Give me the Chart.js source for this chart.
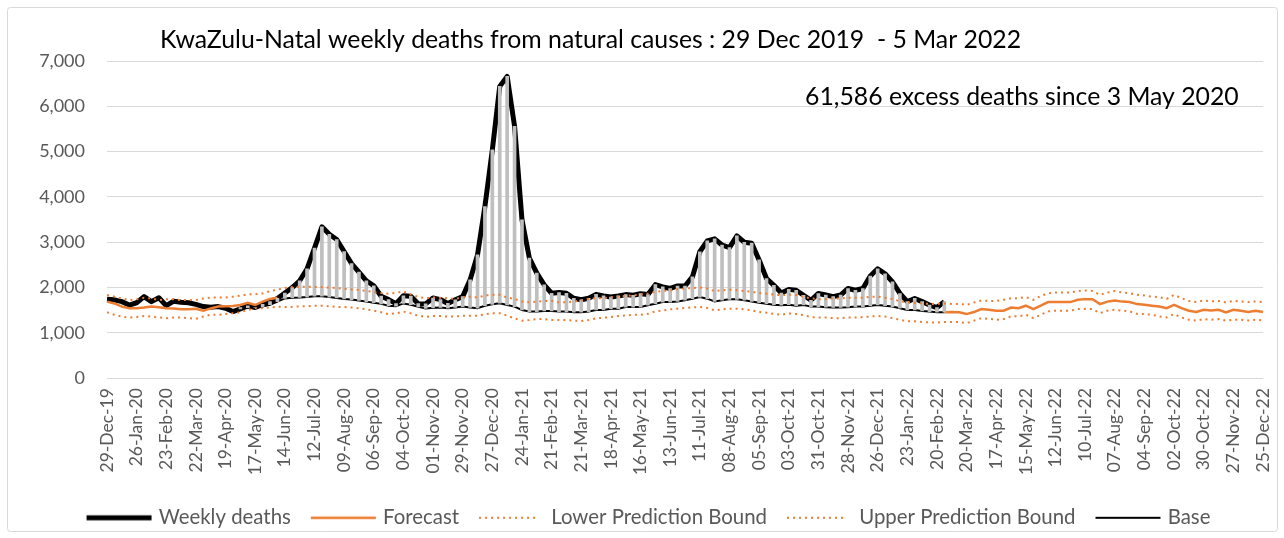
<!DOCTYPE html>
<html><head><meta charset="utf-8">
<script src="https://cdn.jsdelivr.net/npm/chart.js@4.4.1/dist/chart.umd.min.js"></script>
<style>html,body{margin:0;padding:0;background:#fff;} canvas{display:block;}</style>
</head><body>
<canvas id="c" width="1284" height="538"></canvas>
<script>
const titleText = 'KwaZulu-Natal weekly deaths from natural causes : 29 Dec 2019  - 5 Mar 2022';
const noteText = '61,586 excess deaths since 3 May 2020';

const tickLabels = ['29-Dec-19','26-Jan-20','23-Feb-20','22-Mar-20','19-Apr-20','17-May-20','14-Jun-20','12-Jul-20','09-Aug-20','06-Sep-20','04-Oct-20','01-Nov-20','29-Nov-20','27-Dec-20','24-Jan-21','21-Feb-21','21-Mar-21','18-Apr-21','16-May-21','13-Jun-21','11-Jul-21','08-Aug-21','05-Sep-21','03-Oct-21','31-Oct-21','28-Nov-21','26-Dec-21','23-Jan-22','20-Feb-22','20-Mar-22','17-Apr-22','15-May-22','12-Jun-22','10-Jul-22','07-Aug-22','04-Sep-22','02-Oct-22','30-Oct-22','27-Nov-22','25-Dec-22'];
const weeksBetweenTicks = 4;
const weekCount = 157;

const weeklyDeaths = [
 1740,1730,1690,1615,1665,1800,1690,1775,1600,1700,
 1675,1665,1630,1580,1565,1580,1545,1470,1530,1595,
 1560,1630,1690,1760,1880,2000,2150,2415,2870,3340,
 3175,3060,2795,2530,2340,2150,2040,1810,1735,1645,
 1820,1810,1645,1640,1770,1735,1650,1730,1800,2170,
 2720,3790,5040,6440,6660,5560,3495,2650,2320,2060,
 1875,1890,1875,1765,1730,1765,1850,1815,1790,1815,
 1845,1830,1865,1845,2065,2015,1980,2035,2035,2235,
 2790,3030,3075,2940,2880,3140,3000,2980,2610,2200,
 2050,1880,1960,1940,1830,1720,1870,1835,1800,1835,
 1980,1940,1980,2255,2415,2305,2125,1870,1690,1760,
 1690,1615,1560,1690];

const forecast = [
 1690,1650,1580,1545,1545,1560,1580,1565,1545,1540,
 1520,1520,1530,1490,1540,1580,1590,1595,1615,1665,
 1615,1690,1750,1775,
 null,null,null,null,null,null,null,null,null,null,
 null,null,null,null,null,null,null,null,null,null,
 null,null,null,null,null,null,null,null,null,null,
 null,null,null,null,null,null,null,null,null,null,
 null,null,null,null,null,null,null,null,null,null,
 null,null,null,null,null,null,null,null,null,null,
 null,null,null,null,null,null,null,null,null,null,
 null,null,null,null,null,null,null,null,null,null,
 null,null,null,null,null,null,null,null,null,
 1455,1460,1455,1415,1460,1525,1510,1490,1490,1560,
 1545,1600,1525,1600,1680,1680,1680,1680,1730,1745,
 1745,1635,1690,1715,1690,1680,1635,1620,1600,1580,
 1545,1620,1545,1490,1460,1510,1495,1510,1450,1510,
 1490,1460,1490,1460];

const base = [
 null,null,null,null,null,null,null,null,null,null,
 null,null,null,null,null,null,null,null,
 1560,1555,1560,1580,1620,1690,
 1760,1775,1780,1790,1810,1810,1790,1770,1750,1735,
 1715,1690,1665,1640,1600,1590,1650,1620,1575,1540,
 1555,1560,1545,1560,1580,1560,1545,1600,1630,1655,
 1615,1580,1505,1470,1470,1485,1485,1470,1470,1455,
 1455,1470,1505,1505,1535,1535,1570,1570,1570,1610,
 1645,1680,1680,1695,1720,1755,1790,1755,1695,1720,
 1740,1740,1720,1695,1665,1645,1620,1610,1620,1600,
 1615,1580,1580,1565,1560,1560,1565,1580,1580,1600,
 1615,1600,1580,1545,1505,1505,1485,1470,1455,1455];

const upperBound = [
 1835,1800,1760,1725,1740,1775,1760,1725,1740,1745,
 1725,1725,1725,1760,1780,1780,1780,1800,1820,1850,
 1850,1870,1920,1955,1990,2010,2015,2020,2015,2010,
 2000,1990,1975,1960,1945,1925,1900,1880,1865,1885,
 1915,1850,1795,1765,1780,1775,1765,1750,1785,1800,
 1780,1825,1840,1840,1780,1750,1690,1675,1690,1705,
 1705,1675,1675,1690,1720,1750,1765,1765,1790,1805,
 1815,1830,1845,1865,1905,1925,1940,1965,1980,1990,
 2000,1980,1920,1940,1955,1940,1925,1905,1880,1865,
 1845,1830,1845,1835,1800,1760,1745,1745,1760,1760,
 1775,1775,1775,1800,1800,1775,1745,1700,1675,1665,
 1650,1640,1640,1650,1640,1640,1620,1670,1715,1705,
 1705,1730,1765,1765,1790,1730,1815,1875,1890,1890,
 1890,1925,1935,1925,1840,1890,1925,1890,1875,1840,
 1825,1800,1790,1750,1840,1765,1705,1680,1715,1695,
 1705,1670,1705,1695,1680,1695,1680];

const lowerBound = [
 1455,1400,1360,1340,1350,1375,1360,1340,1325,1340,
 1340,1325,1310,1360,1400,1400,1415,1435,1455,1505,
 1545,1545,1560,1580,1570,1575,1585,1590,1600,1600,
 1585,1575,1570,1560,1545,1520,1490,1455,1415,1430,
 1470,1430,1380,1355,1370,1370,1360,1360,1380,1380,
 1380,1410,1435,1435,1380,1320,1270,1285,1305,1305,
 1285,1285,1285,1270,1260,1285,1320,1335,1350,1370,
 1385,1400,1400,1420,1475,1495,1520,1535,1550,1565,
 1570,1550,1495,1520,1535,1535,1520,1495,1460,1445,
 1420,1400,1430,1415,1390,1350,1340,1340,1325,1325,
 1340,1340,1350,1360,1375,1360,1325,1290,1255,1255,
 1240,1230,1230,1240,1240,1240,1215,1270,1325,1310,
 1290,1305,1365,1365,1400,1325,1400,1475,1490,1490,
 1490,1525,1530,1525,1435,1490,1510,1490,1475,1420,
 1415,1400,1365,1340,1415,1340,1290,1270,1305,1290,
 1305,1270,1290,1290,1275,1290,1275];

const categories = Array.from({length: weekCount}, (_, i) =>
  i % weeksBetweenTicks === 0 ? tickLabels[i / weeksBetweenTicks] : '');
const excessBars = weeklyDeaths.map((w, i) => (base[i] == null ? null : [base[i], w]));

const FONT = 'Lato';
const ORANGE = '#ED7D31';
const GREY_TXT = '#595959';

function lineSample(color, width, dash, len) {
  const c = document.createElement('canvas');
  c.width = 80; c.height = 8;
  const g = c.getContext('2d');
  g.strokeStyle = color; g.lineWidth = width; g.lineCap = 'butt';
  g.setLineDash(dash);
  g.beginPath(); g.moveTo(14, 4); g.lineTo(14 + len, 4); g.stroke();
  return c;
}

const decor = {
  id: 'decor',
  beforeDraw(chart) {
    const ctx = chart.ctx;
    ctx.save();
    ctx.fillStyle = '#fff';
    ctx.fillRect(0, 0, chart.width, chart.height);
    ctx.strokeStyle = '#D9D9D9';
    ctx.lineWidth = 1;
    ctx.beginPath();
    ctx.roundRect(7.5, 7.5, 1270, 524, 3);
    ctx.stroke();
    ctx.restore();
  },
  afterDraw(chart) {
    const ctx = chart.ctx;
    ctx.save();
    ctx.fillStyle = '#000';
    ctx.textBaseline = 'middle';
    ctx.textAlign = 'left';
    ctx.font = '24.8px ' + FONT;
    ctx.fillText(titleText, 160, 40);
    ctx.fillText(noteText, 805, 97);
    ctx.restore();
  }
};

const dsMeta = [
  {label: 'Weekly deaths', color: '#000', width: 5, dash: [], len: 65},
  {label: 'Forecast', color: ORANGE, width: 2.5, dash: [], len: 65},
  {label: 'Lower Prediction Bound', color: ORANGE, width: 2, dash: [2, 4], len: 60},
  {label: 'Upper Prediction Bound', color: ORANGE, width: 2, dash: [2, 4], len: 60},
  {label: 'Base', color: '#000', width: 2, dash: [], len: 65}
];

new Chart(document.getElementById('c'), {
  data: {
    labels: categories,
    datasets: [
      {type: 'line', label: 'Weekly deaths', data: weeklyDeaths, borderColor: '#000', borderWidth: 5, pointRadius: 0, tension: 0, order: 4, borderJoinStyle: 'round'},
      {type: 'line', label: 'Forecast', data: forecast, borderColor: ORANGE, borderWidth: 2.5, pointRadius: 0, tension: 0, order: 3, spanGaps: false},
      {type: 'line', label: 'Lower Prediction Bound', data: lowerBound, borderColor: ORANGE, borderWidth: 2, borderDash: [2, 4], pointRadius: 0, tension: 0, order: 0},
      {type: 'line', label: 'Upper Prediction Bound', data: upperBound, borderColor: ORANGE, borderWidth: 2, borderDash: [2, 4], pointRadius: 0, tension: 0, order: 0},
      {type: 'line', label: 'Base', data: base, borderColor: '#000', borderWidth: 2, pointRadius: 0, tension: 0, order: 2},
      {type: 'bar', label: 'Excess', data: excessBars, backgroundColor: '#BFBFBF', barThickness: 3, grouped: false, order: 1}
    ]
  },
  options: {
    responsive: false,
    animation: false,
    devicePixelRatio: 1,
    layout: {autoPadding: false, padding: {top: 61, left: 24, right: 21, bottom: 0}},
    plugins: {
      tooltip: {enabled: false},
      title: {display: false},
      legend: {
        position: 'bottom',
        labels: {
          usePointStyle: true,
          pointStyleWidth: 72,
          padding: 10,
          color: GREY_TXT,
          font: {family: FONT, size: 20.4},
          generateLabels: () => dsMeta.map((m, i) => ({
            text: m.label,
            fillStyle: 'rgba(0,0,0,0)',
            strokeStyle: m.color,
            lineWidth: 0,
            pointStyle: lineSample(m.color, m.width, m.dash, m.len),
            hidden: false,
            datasetIndex: i,
            fontColor: GREY_TXT
          }))
        }
      }
    },
    scales: {
      x: {
        type: 'category',
        offset: false,
        grid: {display: false, drawTicks: false},
        border: {display: false},
        ticks: {autoSkip: false, maxRotation: 90, minRotation: 90, color: GREY_TXT, font: {family: FONT, size: 17.5}, padding: 10},
        afterFit: (s) => { s.height = 119.4; s.paddingLeft = 0; s.paddingRight = 0; }
      },
      y: {
        min: 0, max: 7000,
        grid: {color: '#D9D9D9', lineWidth: 1, drawTicks: false},
        border: {display: false},
        ticks: {stepSize: 1000, color: GREY_TXT, font: {family: FONT, size: 18}, padding: 22,
          callback: (v) => v.toLocaleString('en-US')},
        afterFit: (s) => { s.width = 83; }
      }
    }
  },
  plugins: [decor]
});
</script>
</body></html>
